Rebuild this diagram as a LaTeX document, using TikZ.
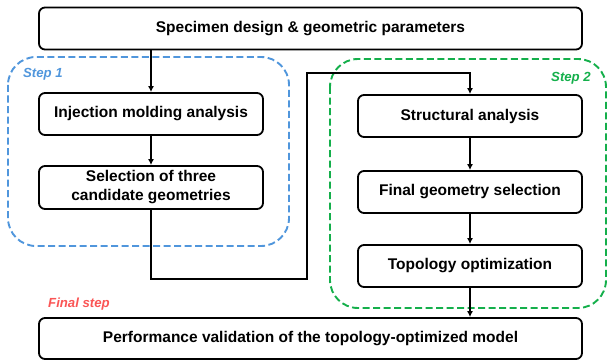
\documentclass[tikz,border=0pt]{standalone}
\usepackage{fontspec}
\setmainfont{Liberation Sans}
\usetikzlibrary{arrows.meta}
\definecolor{stepblue}{RGB}{80,150,220}
\definecolor{stepgreen}{RGB}{20,175,75}
\definecolor{stepred}{RGB}{250,85,85}
\tikzset{
  x=1pt, y=-1pt,
  box/.style={draw=black, line width=1.8pt, rounded corners=6pt, fill=white,
    inner sep=0pt, align=center, font=\bfseries\fontsize{15.5}{19}\selectfont,
    minimum width=224pt, minimum height=42pt},
  widebox/.style={box, minimum width=543pt},
  arr/.style={line width=1.8pt, -{Latex[length=6pt,width=6pt]}},
  stepframe/.style={line width=1.9pt, dash pattern=on 7pt off 3.5pt, rounded corners=28pt},
  steplabel/.style={font=\bfseries\itshape\fontsize{13.2}{15}\selectfont, inner sep=0pt}
}
\begin{document}
\begin{tikzpicture}
\useasboundingbox (0,0) rectangle (608,361);
% step frames
\draw[stepframe, stepblue] (8,57) rectangle (289,246);
\draw[stepframe, stepgreen] (330,59) rectangle (606,308);
\node[steplabel, text=stepblue] (s1) at (43,74) {Step 1};
\node[steplabel, text=stepgreen] (s2) at (571,78) {Step 2};
\node[steplabel, text=stepred] (s3) at (79,304) {Final step};
% boxes
\node[widebox] (spec) at (310.5,28.5) {Specimen design \& geometric parameters};
\node[box] (inj) at (151,114) {Injection molding analysis};
\node[box, minimum height=43pt] (sel) at (151,187.5) {Selection of three\\candidate geometries};
\node[box] (str) at (470,116) {Structural analysis};
\node[box] (fin) at (470,192) {Final geometry selection};
\node[box] (topo) at (470,266) {Topology optimization};
\node[widebox, minimum height=41pt] (perf) at (310.5,338.5) {Performance validation of the topology-optimized model};
% connectors
\coordinate (c2) at (307,279);
\coordinate (c3) at (307,73);
\draw[arr] (spec.south -| inj.north) -- (inj.north);
\draw[arr] (inj.south) -- (sel.north);
\draw[arr] (sel.south) |- (c2) -- (c3) -| (str.north);
\draw[arr] (str.south) -- (fin.north);
\draw[arr] (fin.south) -- (topo.north);
\draw[arr] (topo.south) -- (topo.south |- perf.north);
\end{tikzpicture}
\end{document}
